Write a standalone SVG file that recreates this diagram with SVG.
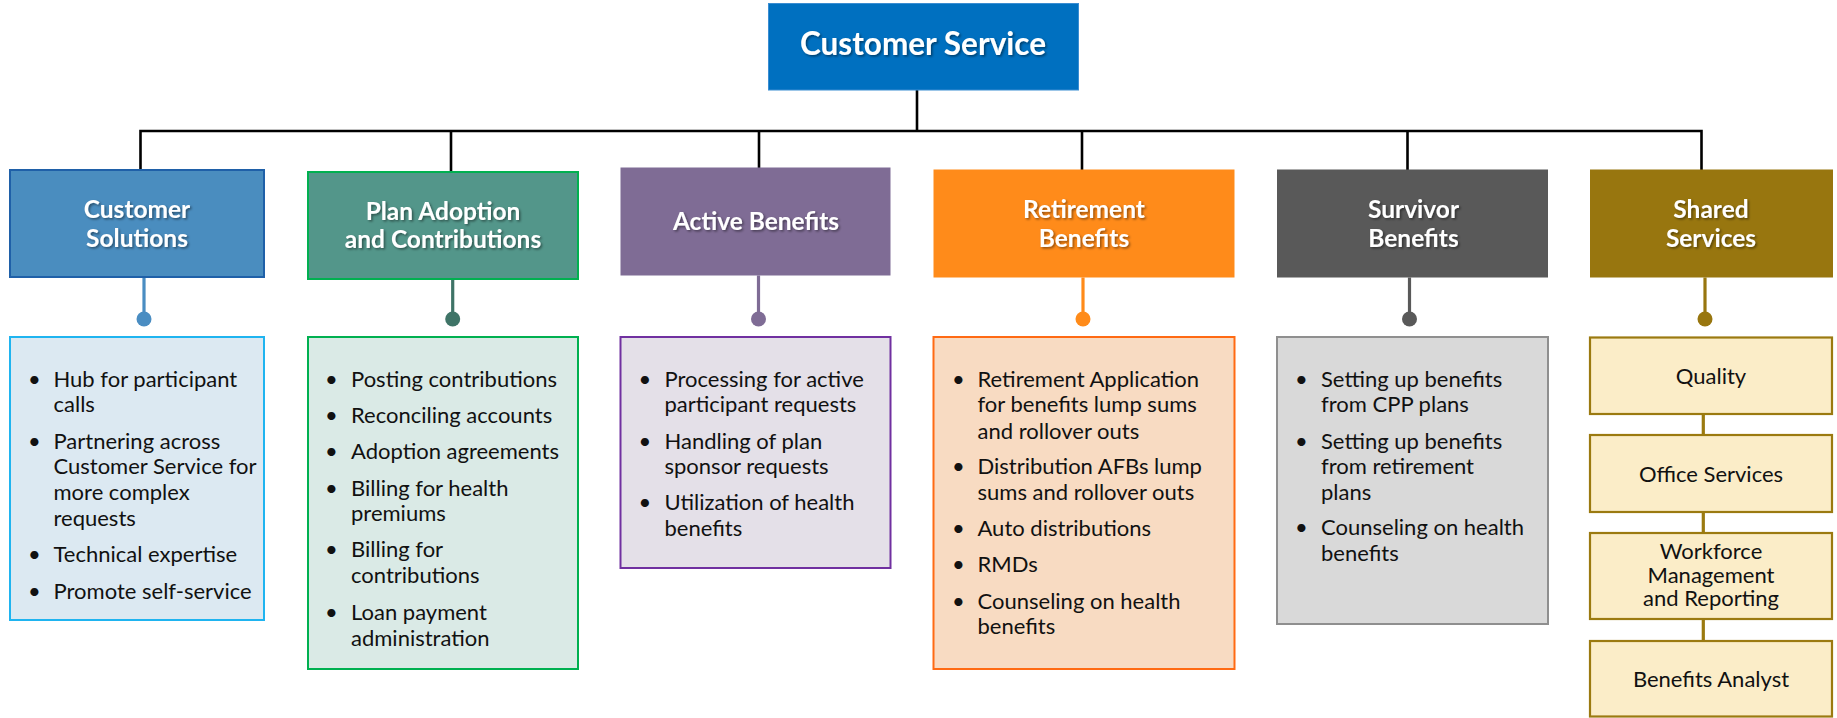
<svg xmlns="http://www.w3.org/2000/svg" width="1837" height="718" viewBox="0 0 1837 718">
  <defs>
    <filter id="txtShadow" x="-10%" y="-30%" width="120%" height="160%">
      <feDropShadow dx="1.5" dy="1.5" stdDeviation="1" flood-color="#000" flood-opacity="0.45"/>
    </filter>
  </defs>
  <style>
    .head { font-family: Lato, "Open Sans", "Liberation Sans", sans-serif; font-weight: 700; fill: #fff; text-anchor: middle; filter: url(#txtShadow); }
    .h1 { font-size: 24.5px; }
    .root { font-size: 31.5px; }
    .body { font-family: Lato, "Open Sans", "Liberation Sans", sans-serif; font-size: 22px; fill: #111; }
    .dot { text-anchor: middle; }
    .center { text-anchor: middle; }
    .bus { fill: none; stroke: #000; stroke-width: 2.6; }
    .stem { fill: none; stroke-width: 3.2; }
  </style>
  <rect width="1837" height="718" fill="#fff"/>

  <!-- connectors -->
  <g id="connectors">
    <path class="bus" d="M917 90 V131"/>
    <path class="bus" d="M140.5 170 V131 H1701.5 V170"/>
    <path class="bus" d="M451 131 V172"/>
    <path class="bus" d="M759 131 V168"/>
    <path class="bus" d="M1082 131 V170"/>
    <path class="bus" d="M1407.5 131 V170"/>

    <path class="stem" stroke="#4A8DC2" d="M144 277 V319"/>
    <circle cx="144" cy="319" r="7.5" fill="#4A8DC2"/>
    <path class="stem" stroke="#3F7467" d="M452.7 279 V319"/>
    <circle cx="452.7" cy="319" r="7.5" fill="#3F7467"/>
    <path class="stem" stroke="#7F6C95" d="M758.5 275.5 V319"/>
    <circle cx="758.5" cy="319" r="7.5" fill="#7F6C95"/>
    <path class="stem" stroke="#FF8B1A" d="M1083 277.5 V319"/>
    <circle cx="1083" cy="319" r="7.5" fill="#FF8B1A"/>
    <path class="stem" stroke="#595959" d="M1409.5 277.5 V319"/>
    <circle cx="1409.5" cy="319" r="7.5" fill="#595959"/>
    <path class="stem" stroke="#98760F" d="M1705 277.5 V319"/>
    <circle cx="1705" cy="319" r="7.5" fill="#98760F"/>

    <path class="stem" stroke="#9B7A10" d="M1703.3 414 V435 M1703.3 512 V533 M1703.3 619 V641"/>
  </g>

  <!-- root -->
  <g id="customer-service">
    <rect x="768.5" y="3.5" width="310" height="86.5" fill="#0070C0" stroke="#3A8DD2" stroke-width="1"/>
    <text class="head root" x="923" y="55">Customer Service</text>
  </g>

  <!-- Customer Solutions -->
  <g id="customer-solutions">
    <rect x="10" y="170" width="254" height="107" fill="#4A8DBF" stroke="#1F60A8" stroke-width="2"/>
    <text class="head h1" x="137" y="218">Customer</text>
    <text class="head h1" x="137" y="246.5">Solutions</text>
    <rect x="10" y="337" width="254" height="283" fill="#DCE9F2" stroke="#1FB4F0" stroke-width="2"/>
    <text class="body">
      <tspan class="dot" x="34.5" y="386.5">•</tspan><tspan x="53.5" y="386.5">Hub for participant</tspan>
      <tspan x="53.5" y="412">calls</tspan>
      <tspan class="dot" x="34.5" y="448.5">•</tspan><tspan x="53.5" y="448.5">Partnering across</tspan>
      <tspan x="53.5" y="474">Customer Service for</tspan>
      <tspan x="53.5" y="500">more complex</tspan>
      <tspan x="53.5" y="525.5">requests</tspan>
      <tspan class="dot" x="34.5" y="562">•</tspan><tspan x="53.5" y="562">Technical expertise</tspan>
      <tspan class="dot" x="34.5" y="598.5">•</tspan><tspan x="53.5" y="598.5">Promote self-service</tspan>
    </text>
  </g>

  <!-- Plan Adoption and Contributions -->
  <g id="plan-adoption">
    <rect x="308" y="172" width="270" height="107" fill="#53968A" stroke="#00B050" stroke-width="2"/>
    <text class="head h1" x="443" y="220">Plan Adoption</text>
    <text class="head h1" x="443" y="248">and Contributions</text>
    <rect x="308" y="337" width="270" height="332" fill="#DAEAE6" stroke="#00B050" stroke-width="2"/>
    <text class="body">
      <tspan class="dot" x="331.5" y="386.5">•</tspan><tspan x="351" y="386.5">Posting contributions</tspan>
      <tspan class="dot" x="331.5" y="423">•</tspan><tspan x="351" y="423">Reconciling accounts</tspan>
      <tspan class="dot" x="331.5" y="458.5">•</tspan><tspan x="351" y="458.5">Adoption agreements</tspan>
      <tspan class="dot" x="331.5" y="495.5">•</tspan><tspan x="351" y="495.5">Billing for health</tspan>
      <tspan x="351" y="521">premiums</tspan>
      <tspan class="dot" x="331.5" y="556.5">•</tspan><tspan x="351" y="556.5">Billing for</tspan>
      <tspan x="351" y="582.5">contributions</tspan>
      <tspan class="dot" x="331.5" y="619.5">•</tspan><tspan x="351" y="619.5">Loan payment</tspan>
      <tspan x="351" y="645.5">administration</tspan>
    </text>
  </g>

  <!-- Active Benefits -->
  <g id="active-benefits">
    <rect x="620.5" y="167.5" width="270" height="108" fill="#7F6C95"/>
    <text class="head h1" x="756" y="230">Active Benefits</text>
    <rect x="620.5" y="337" width="270" height="231" fill="#E4E0E8" stroke="#7030A0" stroke-width="2"/>
    <text class="body">
      <tspan class="dot" x="645" y="386.5">•</tspan><tspan x="664.5" y="386.5">Processing for active</tspan>
      <tspan x="664.5" y="412">participant requests</tspan>
      <tspan class="dot" x="645" y="448.5">•</tspan><tspan x="664.5" y="448.5">Handling of plan</tspan>
      <tspan x="664.5" y="474">sponsor requests</tspan>
      <tspan class="dot" x="645" y="510">•</tspan><tspan x="664.5" y="510">Utilization of health</tspan>
      <tspan x="664.5" y="536">benefits</tspan>
    </text>
  </g>

  <!-- Retirement Benefits -->
  <g id="retirement-benefits">
    <rect x="933.5" y="169.5" width="301" height="108" fill="#FF8B1A"/>
    <text class="head h1" x="1084" y="218">Retirement</text>
    <text class="head h1" x="1084" y="246.5">Benefits</text>
    <rect x="933.5" y="337" width="301" height="332" fill="#F8DBC2" stroke="#FF6A13" stroke-width="2"/>
    <text class="body">
      <tspan class="dot" x="958.5" y="386.5">•</tspan><tspan x="977.5" y="386.5">Retirement Application</tspan>
      <tspan x="977.5" y="412">for benefits lump sums</tspan>
      <tspan x="977.5" y="438.5">and rollover outs</tspan>
      <tspan class="dot" x="958.5" y="474">•</tspan><tspan x="977.5" y="474">Distribution AFBs lump</tspan>
      <tspan x="977.5" y="500">sums and rollover outs</tspan>
      <tspan class="dot" x="958.5" y="536">•</tspan><tspan x="977.5" y="536">Auto distributions</tspan>
      <tspan class="dot" x="958.5" y="572">•</tspan><tspan x="977.5" y="572">RMDs</tspan>
      <tspan class="dot" x="958.5" y="608.5">•</tspan><tspan x="977.5" y="608.5">Counseling on health</tspan>
      <tspan x="977.5" y="633.5">benefits</tspan>
    </text>
  </g>

  <!-- Survivor Benefits -->
  <g id="survivor-benefits">
    <rect x="1277" y="169.5" width="271" height="108" fill="#595959"/>
    <text class="head h1" x="1413.5" y="218">Survivor</text>
    <text class="head h1" x="1413.5" y="246.5">Benefits</text>
    <rect x="1277" y="337" width="271" height="287" fill="#D9D9D9" stroke="#8F8F8F" stroke-width="2"/>
    <text class="body">
      <tspan class="dot" x="1301.5" y="386.5">•</tspan><tspan x="1321" y="386.5">Setting up benefits</tspan>
      <tspan x="1321" y="412">from CPP plans</tspan>
      <tspan class="dot" x="1301.5" y="448.5">•</tspan><tspan x="1321" y="448.5">Setting up benefits</tspan>
      <tspan x="1321" y="474">from retirement</tspan>
      <tspan x="1321" y="500">plans</tspan>
      <tspan class="dot" x="1301.5" y="535">•</tspan><tspan x="1321" y="535">Counseling on health</tspan>
      <tspan x="1321" y="560.5">benefits</tspan>
    </text>
  </g>

  <!-- Shared Services -->
  <g id="shared-services">
    <rect x="1590" y="169.5" width="243" height="108" fill="#98760F"/>
    <text class="head h1" x="1711" y="217.5">Shared</text>
    <text class="head h1" x="1711" y="246.5">Services</text>
  </g>
  <g id="quality">
    <rect x="1590" y="337.5" width="242" height="76.5" fill="#FBEDC8" stroke="#9B7A10" stroke-width="2.2"/>
    <text class="body center" x="1711" y="383.5">Quality</text>
  </g>
  <g id="office-services">
    <rect x="1590" y="435" width="242" height="77" fill="#FBEDC8" stroke="#9B7A10" stroke-width="2.2"/>
    <text class="body center" x="1711" y="481.5">Office Services</text>
  </g>
  <g id="workforce-management">
    <rect x="1590" y="533" width="242" height="86" fill="#FBEDC8" stroke="#9B7A10" stroke-width="2.2"/>
    <text class="body center" x="1711" y="558.5">Workforce</text>
    <text class="body center" x="1711" y="582.5">Management</text>
    <text class="body center" x="1711" y="606">and Reporting</text>
  </g>
  <g id="benefits-analyst">
    <rect x="1590" y="641" width="242" height="75.5" fill="#FBEDC8" stroke="#9B7A10" stroke-width="2.2"/>
    <text class="body center" x="1711" y="687">Benefits Analyst</text>
  </g>
</svg>
